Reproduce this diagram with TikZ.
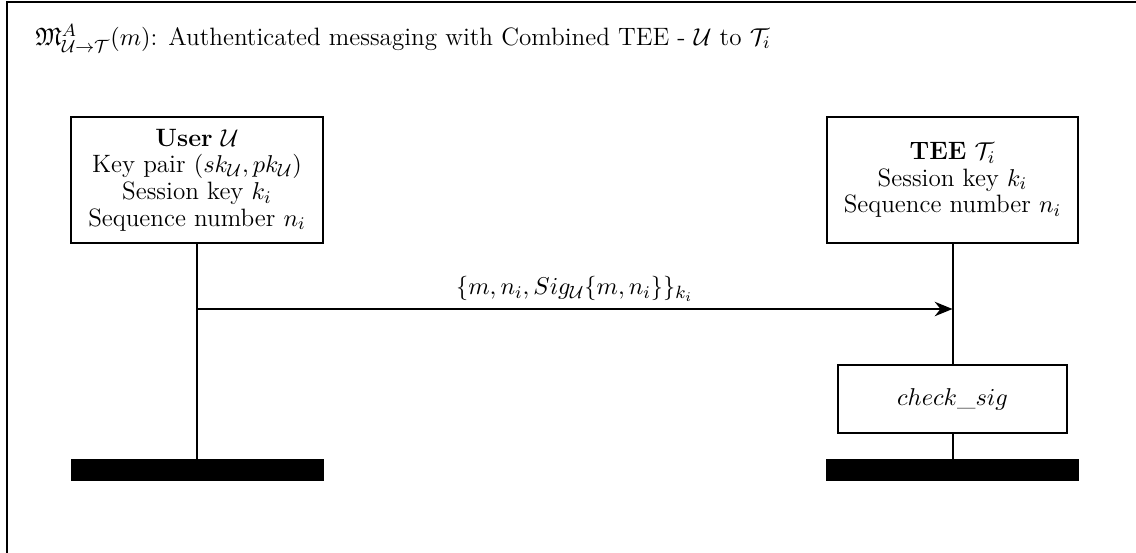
\documentclass[tikz,border=0pt]{standalone}
\usepackage{amssymb}
\usetikzlibrary{arrows.meta}
\tikzset{
  lane/.style={draw, line width=0.9pt, align=center, inner sep=2pt},
  actbox/.style={draw, line width=0.9pt, align=center, inner sep=2pt},
  endbar/.style={fill=black, draw=black, line width=0.4pt, inner sep=0pt},
  life/.style={line width=0.9pt},
  msg/.style={line width=0.9pt, -{Stealth[length=8pt, width=6.5pt]}},
}
\begin{document}
\begin{tikzpicture}[x=0.45pt, y=-0.45pt, font=\fontsize{11.3pt}{12pt}\selectfont]
  \useasboundingbox (0,0) rectangle (1136,553);
  % outer frame, open towards the right and bottom edges
  \begin{scope}
    \clip (0,0) rectangle (1136,553);
    \draw[line width=0.9pt] (6.5,1.5) rectangle (1300,700);
  \end{scope}

  % heading
  \node[anchor=base west, inner sep=0pt] (title) at (35,45)
    {$\mathfrak{M}^{A}_{\mathcal{U}\rightarrow\mathcal{T}}(m)$: Authenticated messaging with Combined TEE - $\mathcal{U}$ to $\mathcal{T}_i$};

  % participants
  \node[lane, minimum width=113pt, minimum height=56.7pt] (user) at (197,180)
    {\textbf{User} $\mathcal{U}$\\ Key pair $(sk_{\mathcal{U}}, pk_{\mathcal{U}})$\\ Session key $k_i$\\ Sequence number $n_i$};
  \node[lane, minimum width=113pt, minimum height=56.7pt] (tee) at (952.5,180)
    {\textbf{TEE} $\mathcal{T}_i$\\ Session key $k_i$\\ Sequence number $n_i$};

  % local action of the TEE
  \node[actbox, minimum width=103pt, minimum height=30.6pt] (check) at (952.5,399)
    {$check\_sig$};

  % lifeline terminators
  \node[endbar, minimum width=113.4pt, minimum height=9.45pt] (ubar) at (197,469.5) {};
  \node[endbar, minimum width=113.4pt, minimum height=9.45pt] (tbar) at (952.5,469.5) {};

  % lifelines
  \draw[life] (user) -- (ubar);
  \draw[life] (tee) -- (check);
  \draw[life] (check) -- (tbar);

  % message
  \coordinate (ua) at (197,309);
  \coordinate (ta) at (952.5,309);
  \draw[msg] (ua) -- node[above, inner sep=3pt] (mlabel)
    {$\{m, n_i, Sig_{\mathcal{U}}\{m, n_i\}\}_{k_i}$} (ta);
\end{tikzpicture}
\end{document}
